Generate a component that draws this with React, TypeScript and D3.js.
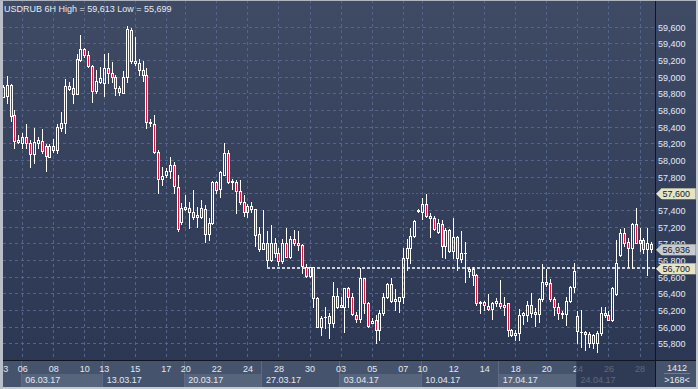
import React from "react";
import * as d3 from "d3";

const W = 698;
const H = 389;

// 6H candles, USDRUB, 03.03.17 .. 28.04.17
const opens = [
  58760, 58768, 58900, 58540, 58240, 58208, 58280, 58200, 58068, 58208,
  58232, 58168, 58040, 58168, 58120, 58380, 58440, 58888, 58860, 58788,
  59200, 59328, 59260, 59132, 58832, 58940, 58920, 59100, 59048, 58992,
  58860, 58808, 59000, 59560, 59192, 59160, 59080, 59020, 58460, 58428,
  58100, 57768, 57820, 57872, 57936, 57680, 57252, 57432, 57428, 57380,
  57340, 57312, 57408, 57108, 57240, 57740, 57648, 57820, 58088, 57732,
  57732, 57632, 57500, 57380, 57408, 57408, 57112, 56936, 57008, 56800,
  57000, 56880, 56792, 57000, 56840, 57048, 57000, 56976, 56720, 56612,
  56712, 56348, 56000, 56112, 56128, 56048, 56368, 56240, 56240, 56460,
  56352, 56140, 56088, 56580, 56280, 56048, 56080, 55960, 56160, 56352,
  56512, 56336, 56312, 56352, 56820, 56940, 57088, 57388, 57380, 57472,
  57328, 57300, 57140, 57232, 56968, 57160, 56908, 57080, 56808, 56880,
  56672, 56688, 56620, 56280, 56292, 56252, 56208, 56280, 56280, 56260,
  56280, 55960, 55900, 55920, 56140, 56140, 56260, 56176, 56152, 56332,
  56540, 56520, 56332, 56240, 56160, 56148, 56312, 56480, 56128, 55940,
  55940, 55912, 55800, 55800, 55920, 56160, 56140, 56080, 56392, 56860,
  57128, 57020, 56948, 57232, 57008, 57040, 56928, 56992,
];
const closes = [
  58880, 58900, 58532, 58232, 58220, 58272, 58200, 58068, 58212, 58240,
  58112, 58048, 58168, 58120, 58392, 58440, 58888, 58848, 58788, 59208,
  59328, 59260, 59132, 58832, 58948, 58980, 59100, 59048, 58992, 58860,
  58812, 59000, 59568, 59192, 59160, 59080, 59020, 58452, 58440, 58100,
  57768, 57808, 57872, 57936, 57688, 57172, 57428, 57412, 57380, 57312,
  57312, 57420, 57108, 57240, 57740, 57640, 57860, 58088, 57740, 57752,
  57632, 57500, 57380, 57448, 57448, 57100, 56928, 57008, 56800, 57000,
  56880, 56792, 57000, 56840, 57048, 57000, 56976, 56728, 56612, 56712,
  56348, 56000, 56100, 56120, 56048, 56368, 56240, 56256, 56460, 56352,
  56148, 56088, 56580, 56280, 56008, 56072, 55960, 56160, 56352, 56512,
  56312, 56312, 56352, 56820, 56940, 57088, 57272, 57404, 57472, 57328,
  57300, 57168, 57248, 56968, 57160, 56908, 57080, 56820, 56880, 56880,
  56688, 56620, 56280, 56292, 56260, 56212, 56280, 56312, 56248, 56232,
  55960, 55900, 55928, 56140, 56160, 56260, 56168, 56152, 56332, 56540,
  56512, 56328, 56240, 56160, 56152, 56312, 56480, 56668, 55948, 55940,
  55912, 55800, 55900, 55928, 56160, 56140, 56080, 56460, 56760, 57128,
  57008, 56948, 57232, 57008, 57040, 56928, 57000, 56936,
];
const highs = [
  58900, 59008, 58912, 58600, 58300, 58328, 58432, 58240, 58388, 58280,
  58376, 58192, 58192, 58256, 58432, 58576, 58968, 58940, 58988, 59272,
  59500, 59340, 59308, 59140, 59080, 59120, 59268, 59280, 59180, 59020,
  58888, 59072, 59613, 59580, 59472, 59208, 59188, 59108, 58488, 58540,
  58120, 57920, 57900, 58040, 57980, 57820, 57480, 57580, 57500, 57640,
  57440, 57520, 57460, 57300, 57748, 57748, 57872, 58208, 58120, 57768,
  57760, 57760, 57576, 57472, 57496, 57416, 57192, 57400, 57152, 57216,
  57060, 56940, 57048, 57180, 57088, 57160, 57152, 56992, 56752, 56720,
  56720, 56360, 56128, 56240, 56168, 56536, 56460, 56360, 56460, 56480,
  56400, 56180, 56708, 56580, 56300, 56100, 56140, 56200, 56400, 56528,
  56580, 56448, 56360, 56940, 57048, 57180, 57280, 57408, 57540, 57592,
  57368, 57328, 57288, 57280, 57180, 57168, 57308, 57088, 57152, 57020,
  56712, 56712, 56632, 56312, 56312, 56392, 56300, 56340, 56560, 56352,
  56280, 55968, 55960, 56208, 56180, 56312, 56408, 56220, 56340, 56752,
  56688, 56572, 56352, 56280, 56188, 56352, 56488, 56760, 56188, 56200,
  55952, 55940, 55912, 55952, 56232, 56240, 56188, 56472, 57040, 57168,
  57180, 57060, 57248, 57420, 57180, 57060, 57180, 57020,
];
const lows = [
  58752, 58688, 58472, 58140, 58200, 58140, 58140, 57920, 57960, 58140,
  58080, 57872, 58040, 58100, 58088, 58352, 58320, 58840, 58688, 58788,
  59192, 59240, 59120, 58700, 58808, 58920, 58768, 58920, 58940, 58780,
  58784, 58800, 58940, 59160, 59140, 59020, 58952, 58380, 58408, 58080,
  57608, 57700, 57800, 57780, 57600, 57152, 57232, 57400, 57180, 57292,
  57192, 57300, 57020, 57040, 57232, 57600, 57552, 57820, 57720, 57648,
  57368, 57472, 57328, 57312, 57380, 56968, 56912, 56928, 56728, 56792,
  56840, 56740, 56768, 56832, 56820, 56980, 56920, 56640, 56592, 56600,
  56240, 56000, 55900, 55980, 55860, 56000, 56220, 56232, 55940, 56240,
  56140, 56060, 56060, 56160, 56000, 56048, 55800, 55840, 56140, 56340,
  56300, 56200, 56180, 56288, 56680, 56760, 57080, 57380, 57288, 57312,
  57080, 57160, 57128, 56840, 56820, 56900, 56820, 56680, 56780, 56540,
  56600, 56500, 56260, 56168, 56200, 56200, 56088, 56248, 56220, 56140,
  55888, 55888, 55840, 55840, 56032, 56072, 56120, 56008, 56060, 56312,
  56488, 56312, 56140, 56088, 56108, 56020, 56300, 56420, 55800, 55760,
  55720, 55760, 55740, 55699, 55900, 56120, 56080, 56072, 56380, 56848,
  56968, 56712, 56700, 57000, 56908, 56880, 56620, 56900,
];

const priceTicks = d3.range(55800, 59601, 200);
const dayLabels = ["03", "06", "08", "10", "13", "15", "17", "20", "22", "24", "28", "30",
  "03", "05", "07", "10", "12", "14", "18", "20", "24", "26", "28"];
const dayBars = [0, 5, 13, 21, 26, 34, 42, 47, 55, 63, 71, 79, 87, 95, 103, 108, 116, 124, 132, 140, 148, 156, 164];
const weekLabels = ["06.03.17", "13.03.17", "20.03.17", "27.03.17", "03.04.17", "10.04.17", "17.04.17", "24.04.17"];
const weekBars = [5, 26, 47, 67, 87, 108, 128, 148];

const titleText = "USDRUB 6H High = 59,613 Low = 55,699";
const highLinePrice = 57600;
const lowLinePrice = 56700;
const lastPrice = 56936;
const barsInfo = ["1412", ">168<"];

const FONT = "'Liberation Sans', Arial, sans-serif";
const PLOT_R = 655;
const PLOT_B = 360;

export default function App() {
  const n = opens.length;
  const x = d3.scaleLinear().domain([0, n - 1]).range([3.3, 651.7]);
  const y = d3.scaleLinear().domain([55800, 59600]).range([343.3, 26.7]);
  const fmt = d3.format(",");
  const halfBar = (x(1) - x(0)) / 2;

  const marker = (price: number, fill: string, key: string, label: string) => {
    const py = Math.round(y(price)) + 0.5;
    const pts = [
      [656.5, py], [661.5, py - 5.5], [695.5, py - 5.5], [695.5, py + 5.5], [661.5, py + 5.5],
    ].map((p) => p.join(",")).join(" ");
    return (
      <g key={key}>
        <polygon points={pts} fill={fill} stroke="#8a8a78" strokeWidth={0.6} />
        <text x={662.5} y={py + 3.2} fontSize={9} fill="#1b1b1b" fontFamily={FONT}>{label}</text>
      </g>
    );
  };

  const hy = Math.round(y(highLinePrice)) + 0.5;
  const redDots = d3.range(260, PLOT_R - 1, 4);

  return (
    <svg width={W} height={H} style={{ position: "fixed", left: 0, top: 0, display: "block" }}
      shapeRendering="crispEdges">
      <defs>
        <linearGradient id="bg" x1="0" y1="0" x2="0" y2="1">
          <stop offset="0" stopColor="#3f4b65" />
          <stop offset="1" stopColor="#2c3853" />
        </linearGradient>
        <clipPath id="plotClip">
          <rect x={3} y={0} width={PLOT_R - 3} height={PLOT_B} />
        </clipPath>
        <clipPath id="axisClip">
          <rect x={3} y={PLOT_B} width={PLOT_R - 3} height={30} />
        </clipPath>
      </defs>

      <rect x={0} y={0} width={W} height={PLOT_B} fill="url(#bg)" />

      {/* grid */}
      <g clipPath="url(#plotClip)" stroke="#55658a" strokeWidth={1} strokeDasharray="3,3">
        {priceTicks.map((p) => (
          <line key={"h" + p} x1={3} x2={p === highLinePrice ? 259 : PLOT_R}
            y1={Math.round(y(p)) + 0.5} y2={Math.round(y(p)) + 0.5} />
        ))}
        {dayBars.slice(1).map((b) => (
          <line key={"v" + b} x1={Math.floor(x(b)) + 0.5} x2={Math.floor(x(b)) + 0.5} y1={0} y2={PLOT_B} />
        ))}
      </g>

      {/* horizontal level lines */}
      <g fill="#e8243a">
        {redDots.map((rx) => (
          <rect key={"rd" + rx} x={rx} y={hy - 0.5} width={2} height={1} />
        ))}
      </g>
      <line x1={267} x2={PLOT_R} y1={Math.round(y(lowLinePrice))} y2={Math.round(y(lowLinePrice))}
        stroke="#cfd2d8" strokeWidth={2} strokeDasharray="3,2" />

      {/* candles */}
      <g clipPath="url(#plotClip)">
        {opens.map((o, i) => {
          const c = closes[i];
          const bear = c < o;
          const cx = Math.floor(x(i));
          const top = Math.round(y(Math.max(o, c)));
          const bot = Math.round(y(Math.min(o, c)));
          const yh = Math.round(y(highs[i]));
          const yl = Math.round(y(lows[i]));
          const wx = cx + 0.5;
          return (
            <g key={i}>
              {yh < top && <line x1={wx} x2={wx} y1={yh} y2={top} stroke="#ffffff" strokeWidth={1} />}
              {yl > bot && <line x1={wx} x2={wx} y1={bot + 1} y2={yl + 1} stroke="#ffffff" strokeWidth={1} />}
              {bot - top >= 2 ? (
                <rect x={cx - 0.5} y={top + 0.5} width={2} height={bot - top}
                  fill={bear ? "#e0143c" : "none"} stroke="#ffffff" strokeWidth={1} />
              ) : (
                <rect x={cx - 1} y={top} width={3} height={bot - top + 1} fill="#ffffff" />
              )}
            </g>
          );
        })}
      </g>

      {/* title */}
      <text x={4} y={11.5} fontSize={9} fill="#e6eaf1" fontFamily={FONT} shapeRendering="auto">{titleText}</text>

      {/* price axis */}
      <g fontFamily={FONT} fontSize={9} fill="#e2eaf7">
        {priceTicks.map((p) => (
          <text key={"t" + p} x={658} y={Math.round(y(p)) + 3.5}>{fmt(p)}</text>
        ))}
      </g>
      {marker(highLinePrice, "#e4e4c8", "mh", fmt(highLinePrice))}
      {marker(lastPrice, "#c6cad2", "ml", fmt(lastPrice))}
      {marker(lowLinePrice, "#e4e4c8", "mlo", fmt(lowLinePrice))}

      {/* time axis */}
      <rect x={0} y={PLOT_B} width={W} height={H - PLOT_B} fill="#45536d" />
      <g clipPath="url(#axisClip)">
        {weekBars.map((b, k) => {
          const x0 = x(b) - halfBar;
          const x1 = k + 1 < weekBars.length ? x(weekBars[k + 1]) - halfBar : PLOT_R;
          return (
            <g key={"w" + b}>
              {k % 2 === 0 && k < weekBars.length - 1 && (
                <rect x={Math.round(x0)} y={374} width={Math.round(x1) - Math.round(x0)} height={13} fill="#56647c" />
              )}
              <line x1={Math.round(x0) + 0.5} x2={Math.round(x0) + 0.5} y1={PLOT_B} y2={387} stroke="#5d6b84" />
            </g>
          );
        })}
        <g fontFamily={FONT} fontSize={9} fill="#e2e8f2">
          {dayLabels.map((d, k) => (
            <text key={"d" + k} x={x(dayBars[k])} y={371.5} textAnchor="middle">{d}</text>
          ))}
          {weekLabels.map((w, k) => (
            <text key={"wl" + k} x={x(weekBars[k]) - halfBar + 4.5} y={383.3}>{w}</text>
          ))}
        </g>
        {/* dimmed current-week block */}
        <rect x={Math.round(x(weekBars[weekBars.length - 1]) - halfBar)} y={PLOT_B}
          width={PLOT_R - Math.round(x(weekBars[weekBars.length - 1]) - halfBar)} height={27}
          fill="#27324b" fillOpacity={0.72} />
      </g>

      {/* bottom right info cell */}
      <rect x={656} y={PLOT_B + 1} width={40} height={26} fill="#45536d" />
      <g fontFamily={FONT} fontSize={9} fill="#e8edf5" textAnchor="middle">
        <text x={677} y={370.5}>{barsInfo[0]}</text>
        <text x={677} y={383}>{barsInfo[1]}</text>
      </g>
      <line x1={664} x2={690} y1={373.5} y2={373.5} stroke="#6f7c94" />

      {/* separators and frame */}
      <line x1={0} x2={W} y1={PLOT_B + 0.5} y2={PLOT_B + 0.5} stroke="#11151e" />
      <line x1={PLOT_R + 0.5} x2={PLOT_R + 0.5} y1={0} y2={387} stroke="#11151e" />
      <rect x={0} y={387} width={W} height={2} fill="#c4c8cf" />
      <rect x={0} y={0} width={3} height={H} fill="#b9bec8" />
      <rect x={0} y={0} width={W} height={1} fill="#aeb4c0" />
      <rect x={696} y={0} width={2} height={H} fill="#c4c8cf" />
    </svg>
  );
}
